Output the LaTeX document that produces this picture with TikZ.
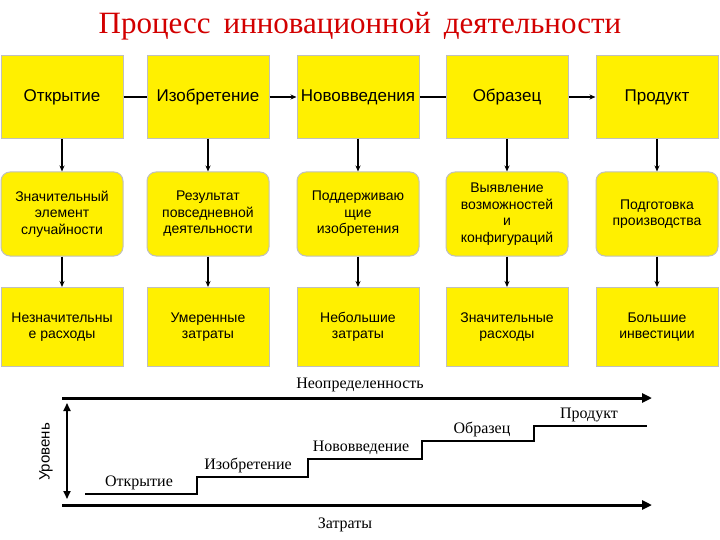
\documentclass[tikz,border=0pt]{standalone}
\usepackage{fontspec}
\setmainfont{Liberation Serif}
\newfontfamily\boxfont{Liberation Sans}
\usetikzlibrary{arrows.meta}
\definecolor{ttl}{RGB}{210,0,0}
\definecolor{ylw}{RGB}{255,240,0}
\begin{document}
\begin{tikzpicture}[x=1pt,y=-1pt,
  base/.style={fill=ylw, draw=black!25, line width=1pt, minimum width=122pt, inner sep=1pt, align=center, font=\boxfont\fontsize{14}{16.5}\selectfont},
  topbox/.style={base, minimum height=83pt, font=\boxfont\fontsize{17}{19}\selectfont},
  midbox/.style={base, minimum height=84pt, rounded corners=9pt},
  lowbox/.style={base, minimum height=79pt},
  conn/.style={line width=1.3pt},
  arr/.style={conn, -{Stealth[length=6pt,width=5pt]}},
  big/.style={line width=3pt, -{Triangle[length=10pt,width=9pt]}},
  lbl/.style={font=\fontsize{16}{18}\selectfont, inner sep=1pt}]
\useasboundingbox (0,0) rectangle (720,540);
\node[text=ttl, font=\fontsize{31}{34}\selectfont] (title) at (360,26) {Процесс\, инновационной\, деятельности};
\node[topbox] (t1) at (62,97) {Открытие};
\node[topbox] (t2) at (208,97) {Изобретение};
\node[topbox] (t3) at (358,97) {Нововведения};
\node[topbox] (t4) at (507,97) {Образец};
\node[topbox] (t5) at (657,97) {Продукт};
\node[midbox] (m1) at (62,214) {Значительный\\элемент\\случайности};
\node[midbox] (m2) at (208,214) {Результат\\повседневной\\деятельности};
\node[midbox] (m3) at (358,214) {Поддерживаю\\щие\\изобретения};
\node[midbox] (m4) at (507,214) {Выявление\\возможностей\\и\\конфигураций};
\node[midbox] (m5) at (657,214) {Подготовка\\производства};
\node[lowbox] (l1) at (62,327) {Незначительны\\е расходы};
\node[lowbox] (l2) at (208,327) {Умеренные\\затраты};
\node[lowbox] (l3) at (358,327) {Небольшие\\затраты};
\node[lowbox] (l4) at (507,327) {Значительные\\расходы};
\node[lowbox] (l5) at (657,327) {Большие\\инвестиции};
\draw[conn] (t1) -- (t2);
\draw[arr] (t2) -- (t3);
\draw[conn] (t3) -- (t4);
\draw[arr] (t4) -- (t5);
\foreach \i in {1,...,5}{
  \draw[arr] (t\i) -- (m\i);
  \draw[arr] (m\i) -- (l\i);}
\coordinate (ua) at (62,398); \coordinate (ub) at (652,398);
\coordinate (za) at (62,505); \coordinate (zb) at (652,505);
\coordinate (va) at (67,403); \coordinate (vb) at (67,499);
\draw[big] (ua) -- (ub);
\draw[big] (za) -- (zb);
\draw[line width=1.8pt, {Triangle[length=8pt,width=7pt]}-{Triangle[length=8pt,width=7pt]}] (va) -- (vb);
\node[lbl] (un) at (360,385) {Неопределенность};
\node[lbl] (zt) at (345,525) {Затраты};
\node[lbl, rotate=90, font=\boxfont\fontsize{15}{17}\selectfont] (ur) at (46,452) {Уровень};
\draw[line width=2.5pt] (85,494) -- (197,494) -- (197,477) -- (308,477) -- (308,459) -- (422,459) -- (422,441) -- (534,441) -- (534,426) -- (647,426);
\node[lbl, anchor=south] (p1) at (139,491) {Открытие};
\node[lbl, anchor=south] (p2) at (248,474) {Изобретение};
\node[lbl, anchor=south] (p3) at (361,456) {Нововведение};
\node[lbl, anchor=south] (p4) at (482,438) {Образец};
\node[lbl, anchor=south] (p5) at (589,423) {Продукт};
\end{tikzpicture}
\end{document}
